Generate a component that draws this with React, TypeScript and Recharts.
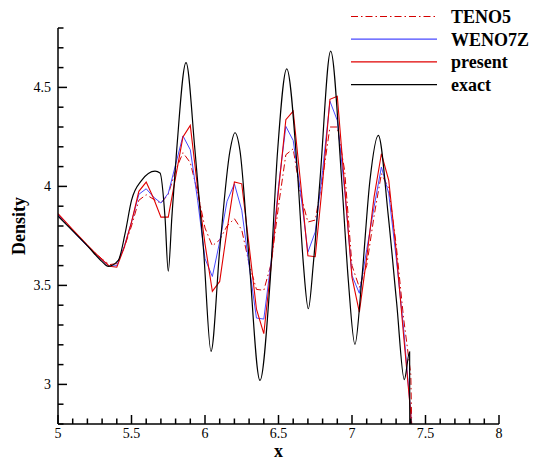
import { Legend, Line, LineChart, XAxis, YAxis } from "recharts";

// cell centres used by the three schemes (dx = 0.05)
const gridX = [
  5.0, 5.05, 5.1, 5.15, 5.2, 5.25, 5.3, 5.35, 5.4, 5.45,
  5.5, 5.55, 5.6, 5.65, 5.7, 5.75, 5.8, 5.85, 5.9, 5.95,
  6.0, 6.05, 6.1, 6.15, 6.2, 6.25, 6.3, 6.35, 6.4, 6.45,
  6.5, 6.55, 6.6, 6.65, 6.7, 6.75, 6.8, 6.85, 6.9, 6.95,
  7.0, 7.05, 7.1, 7.15, 7.2, 7.25, 7.3, 7.35, 7.4, 7.45,
];

const present = [
  3.862, 3.822, 3.782, 3.742, 3.703, 3.666, 3.63, 3.597, 3.592, 3.69,
  3.82, 3.975, 4.022, 3.94, 3.845, 3.845, 4.047, 4.25, 4.308, 3.99,
  3.71, 3.47, 3.52, 3.78, 4.022, 4.013, 3.7, 3.38, 3.256, 3.6,
  3.98, 4.337, 4.38, 4.02, 3.65, 3.645, 4.02, 4.44, 4.455, 4.0,
  3.54, 3.365, 3.64, 3.946, 4.165, 4.03, 3.677, 3.256, 2.85, 1.0,
];

const weno7z = [
  3.855, 3.815, 3.775, 3.736, 3.698, 3.661, 3.627, 3.596, 3.6, 3.695,
  3.82, 3.96, 3.988, 3.946, 3.916, 3.965, 4.11, 4.255, 4.185, 3.93,
  3.635, 3.545, 3.72, 3.925, 4.013, 3.88, 3.6, 3.335, 3.33, 3.62,
  4.0, 4.303, 4.232, 3.97, 3.668, 3.77, 4.08, 4.43, 4.333, 3.98,
  3.55, 3.46, 3.68, 3.896, 4.098, 3.963, 3.643, 3.29, 2.85, 1.0,
];

const teno5 = [
  3.858, 3.818, 3.779, 3.74, 3.702, 3.666, 3.633, 3.605, 3.61, 3.69,
  3.8, 3.93, 3.958, 3.935, 3.915, 3.96, 4.08, 4.17, 4.12, 3.97,
  3.79, 3.7, 3.73, 3.8, 3.837, 3.78, 3.61, 3.48, 3.475, 3.61,
  3.9, 4.16, 4.19, 3.96, 3.82, 3.83, 4.04, 4.3, 4.3, 4.08,
  3.6, 3.49, 3.6, 3.85, 4.064, 3.99, 3.71, 3.34, 3.05, 1.0,
];

const exactX = [
  5.0, 5.1, 5.2, 5.3, 5.342, 5.41, 5.456, 5.5, 5.569, 5.66,
  5.694, 5.728, 5.75, 5.775, 5.807, 5.871, 5.932, 5.99, 6.041, 6.1,
  6.17, 6.204, 6.238, 6.295, 6.374, 6.442, 6.494, 6.556, 6.63, 6.669,
  6.703, 6.737, 6.782, 6.855, 6.93, 6.975, 7.02, 7.066, 7.122, 7.179,
  7.247, 7.304, 7.356, 7.392, 7.398,
];

const exactY = [
  3.85, 3.775, 3.7, 3.62, 3.596, 3.626, 3.761, 3.929, 4.03, 4.077,
  4.068, 3.845, 3.572, 3.85, 4.18, 4.625, 4.18, 3.68, 3.167, 3.68,
  4.18, 4.271, 4.18, 3.68, 3.02, 3.51, 4.18, 4.594, 4.06, 3.61,
  3.382, 3.61, 4.03, 4.683, 4.03, 3.525, 3.202, 3.525, 4.03, 4.258,
  3.85, 3.41, 3.024, 3.165, 1.0,
];

const xTicks = [
  5, 5.1, 5.2, 5.3, 5.4, 5.5, 5.6, 5.7, 5.8, 5.9, 6, 6.1, 6.2, 6.3, 6.4, 6.5,
  6.6, 6.7, 6.8, 6.9, 7, 7.1, 7.2, 7.3, 7.4, 7.5, 7.6, 7.7, 7.8, 7.9, 8,
];
const xMajor = [5, 5.5, 6, 6.5, 7, 7.5, 8];
const yTicks = [
  2.8, 2.9, 3, 3.1, 3.2, 3.3, 3.4, 3.5, 3.6, 3.7, 3.8, 3.9, 4, 4.1, 4.2, 4.3,
  4.4, 4.5, 4.6, 4.7, 4.8,
];
const yMajor = [3, 3.5, 4, 4.5];

const FONT = "'Liberation Serif', 'Times New Roman', serif";

const series = [
  { name: "TENO5", values: teno5, color: "#d40000", dash: "7 3 1.5 3", width: 1 },
  { name: "WENO7Z", values: weno7z, color: "#4848ff", dash: undefined, width: 1 },
  { name: "present", values: present, color: "#e00000", dash: undefined, width: 1.1 },
];

const exactData = exactX.map((x, i) => ({ x, y: exactY[i] }));

const isMajor = (v: number, majors: number[]) => majors.some((m) => Math.abs(m - v) < 1e-6);
const fmt = (v: number) => String(Number(v.toFixed(1)));

function XTick({ x, y, payload }: any) {
  const major = isMajor(payload.value, xMajor);
  return (
    <g>
      <line x1={x} x2={x} y1={y} y2={y - (major ? 9 : 5.5)} stroke="#000" strokeWidth={1.5} />
      {major && (
        <text x={x} y={y + 14} textAnchor="middle" fontFamily={FONT} fontSize={14} fill="#000">
          {fmt(payload.value)}
        </text>
      )}
    </g>
  );
}

function YTick({ x, y, payload }: any) {
  const major = isMajor(payload.value, yMajor);
  return (
    <g>
      <line x1={x} x2={x + (major ? 9 : 5.5)} y1={y} y2={y} stroke="#000" strokeWidth={1.5} />
      {major && (
        <text x={x - 7} y={y} dy="0.35em" textAnchor="end" fontFamily={FONT} fontSize={14} fill="#000">
          {fmt(payload.value)}
        </text>
      )}
    </g>
  );
}

const legendItems = [
  ...series.map((s) => ({ name: s.name, color: s.color, dash: s.dash })),
  { name: "exact", color: "#000", dash: undefined },
];

function renderLegend() {
  return (
    <svg width={188} height={92}>
      {legendItems.map((it, i) => {
        const cy = 11.5 + i * 22.7;
        return (
          <g key={it.name}>
            <line x1={6} x2={92} y1={cy} y2={cy} stroke={it.color} strokeWidth={1.2} strokeDasharray={it.dash} />
            <text x={106} y={cy} dy="0.35em" fontFamily={FONT} fontWeight="bold" fontSize={18} fill="#000">
              {it.name}
            </text>
          </g>
        );
      })}
    </svg>
  );
}

export default function App() {
  return (
    <div style={{ position: "absolute", left: 0, top: 0, width: 534, height: 460, background: "#fff" }}>
      <LineChart width={534} height={460} margin={{ top: 28, right: 35, bottom: 0, left: 8 }}>
        <XAxis
          dataKey="x"
          type="number"
          domain={[5, 8]}
          allowDataOverflow
          ticks={xTicks}
          interval={0}
          tickSize={0}
          tickMargin={0}
          tick={<XTick />}
          height={36}
          axisLine={{ stroke: "#000", strokeWidth: 1.5 }}
          label={{
            value: "x",
            position: "insideBottom",
            offset: 3,
            style: { fontFamily: FONT, fontWeight: "bold", fontSize: 18, fill: "#000" },
          }}
        />
        <YAxis
          type="number"
          domain={[2.8, 4.8]}
          allowDataOverflow
          ticks={yTicks}
          interval={0}
          tickSize={0}
          tickMargin={0}
          tick={<YTick />}
          width={50}
          axisLine={{ stroke: "#000", strokeWidth: 1.5 }}
          label={{
            value: "Density",
            angle: -90,
            position: "insideLeft",
            offset: 11,
            style: { textAnchor: "middle", fontFamily: FONT, fontWeight: "bold", fontSize: 18, fill: "#000" },
          }}
        />
        <Legend
          content={renderLegend}
          layout="vertical"
          align="center"
          verticalAlign="middle"
          wrapperStyle={{ top: 5, left: 345, width: 188, height: 92 }}
        />
        {series.map((s) => (
          <Line
            key={s.name}
            name={s.name}
            data={gridX.map((x, i) => ({ x, y: s.values[i] }))}
            dataKey="y"
            type="linear"
            stroke={s.color}
            strokeWidth={s.width}
            strokeDasharray={s.dash}
            dot={false}
            activeDot={false}
            isAnimationActive={false}
          />
        ))}
        <Line
          name="exact"
          data={exactData}
          dataKey="y"
          type="monotoneX"
          stroke="#000"
          strokeWidth={1.2}
          dot={false}
          activeDot={false}
          isAnimationActive={false}
        />
      </LineChart>
    </div>
  );
}
